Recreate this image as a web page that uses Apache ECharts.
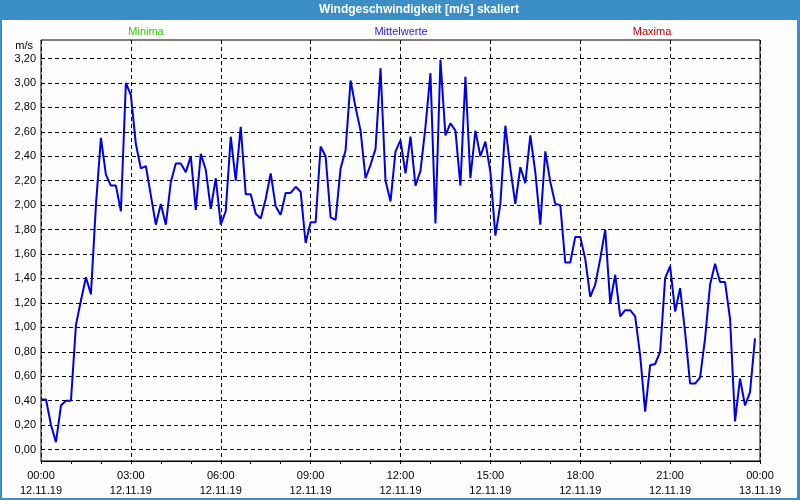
<!DOCTYPE html>
<html>
<head>
<meta charset="utf-8">
<script src="https://cdn.jsdelivr.net/npm/echarts@6/dist/echarts.min.js"></script>
<style>
html,body{margin:0;padding:0;background:#fff;}
#chart{width:800px;height:500px;}
</style>
</head>
<body>
<div id="chart"></div>
<script>
// 10-minute mean wind speed values [m/s], 12.11.19 00:00 .. 23:50
var stepMinutes = 10;
var windMean = [
  0.41,0.41,0.20,0.06,0.36,0.40,0.40,1.02,1.22,1.41,1.27,2.00,
  2.55,2.25,2.16,2.16,1.95,3.00,2.90,2.50,2.30,2.32,2.08,1.84,
  2.01,1.84,2.19,2.34,2.34,2.27,2.40,1.96,2.42,2.29,1.97,2.22,
  1.84,1.95,2.56,2.20,2.64,2.09,2.09,1.93,1.89,2.05,2.26,1.99,
  1.92,2.10,2.10,2.15,2.11,1.69,1.86,1.86,2.48,2.40,1.90,1.88,
  2.30,2.45,3.02,2.80,2.61,2.22,2.33,2.46,3.12,2.20,2.03,2.44,
  2.53,2.26,2.56,2.16,2.28,2.64,3.08,1.85,3.19,2.57,2.67,2.61,
  2.16,3.05,2.22,2.61,2.40,2.52,2.27,1.75,2.01,2.65,2.30,2.01,
  2.31,2.18,2.57,2.27,1.84,2.44,2.19,2.01,2.00,1.53,1.53,1.74,
  1.74,1.56,1.25,1.35,1.56,1.80,1.20,1.43,1.09,1.14,1.14,1.09,
  0.77,0.31,0.69,0.70,0.80,1.40,1.50,1.13,1.32,0.96,0.54,0.54,
  0.59,0.91,1.35,1.52,1.37,1.37,1.07,0.23,0.58,0.36,0.47,0.91
];
var xTickTimes = ['00:00','03:00','06:00','09:00','12:00','15:00','18:00','21:00','00:00'];
var xTickDates = ['12.11.19','12.11.19','12.11.19','12.11.19','12.11.19','12.11.19','12.11.19','12.11.19','13.11.19'];
var titleText = 'Windgeschwindigkeit [m/s] skaliert';
var legendNames = ['Minima','Mittelwerte','Maxima'];
var unitText = 'm/s';

var FONT = "'Liberation Sans', Arial, sans-serif";
var BLUE = '#3b8fc6';
var tickStep = 180;

var seriesData = windMean.map(function (v, i) { return [i * stepMinutes, v]; });

var chart = echarts.init(document.getElementById('chart'), null, {renderer: 'canvas'});
chart.setOption({
  animation: false,
  backgroundColor: '#fcfdfc',
  textStyle: {fontFamily: FONT},
  grid: [
    {left: 41, right: 40, top: 58.5, bottom: 50.5, show: false},
    {left: 41, right: 40, top: 40, bottom: 39, show: true, borderColor: '#000', borderWidth: 1, backgroundColor: 'transparent'}
  ],
  xAxis: [
    {gridIndex: 0, type: 'value', min: 0, max: 1440, show: false},
    {gridIndex: 1, type: 'value', min: 0, max: 1440, interval: tickStep,
     axisLine: {show: true, lineStyle: {color: '#000', width: 1}},
     axisTick: {show: true, length: 3, lineStyle: {color: '#000'}},
     minorTick: {show: true, splitNumber: 3, length: 3, lineStyle: {color: '#000'}},
     splitLine: {show: true, lineStyle: {color: '#000', type: [4, 3], width: 1}},
     axisLabel: {
       margin: 7, fontSize: 11, fontFamily: FONT, color: '#000', lineHeight: 15,
       formatter: function (v) {
         var k = Math.round(v / tickStep);
         return xTickTimes[k] + '\n' + xTickDates[k];
       }
     }
    }
  ],
  yAxis: [
    {gridIndex: 0, type: 'value', min: 0, max: 3.2, interval: 0.2,
     axisLine: {show: false}, axisTick: {show: false},
     splitLine: {show: true, lineStyle: {color: '#000', type: [4, 3], width: 1}},
     axisLabel: {margin: 5, fontSize: 11, fontFamily: FONT, color: '#000',
       formatter: function (v) { return v.toFixed(2).replace('.', ','); }}
    },
    {gridIndex: 1, type: 'value', min: 0, max: 1, show: false}
  ],
  graphic: [
    {type: 'rect', shape: {x: 0, y: 0, width: 800, height: 20}, style: {fill: BLUE}, z: 100},
    {type: 'rect', shape: {x: 1, y: 1, width: 797, height: 498}, style: {fill: 'none', stroke: BLUE, lineWidth: 2}, z: 100},
    {type: 'rect', shape: {x: 797, y: 0, width: 3, height: 500}, style: {fill: BLUE}, z: 100},
    {type: 'text', x: 419, y: 10, z: 101, style: {text: titleText, fill: '#fff', font: "bold 12px " + FONT, textAlign: 'center', textVerticalAlign: 'middle'}},
    {type: 'text', x: 146, y: 32, z: 101, style: {text: legendNames[0], fill: '#33cc00', font: "11px " + FONT, textAlign: 'center', textVerticalAlign: 'middle'}},
    {type: 'text', x: 401, y: 32, z: 101, style: {text: legendNames[1], fill: '#2020ff', font: "11px " + FONT, textAlign: 'center', textVerticalAlign: 'middle'}},
    {type: 'text', x: 652, y: 32, z: 101, style: {text: legendNames[2], fill: '#c00000', font: "11px " + FONT, textAlign: 'center', textVerticalAlign: 'middle'}},
    {type: 'text', x: 33, y: 46, z: 101, style: {text: unitText, fill: '#000', font: "11px " + FONT, textAlign: 'right', textVerticalAlign: 'middle'}}
  ],
  series: [
    {type: 'line', name: legendNames[1], xAxisIndex: 0, yAxisIndex: 0, data: seriesData,
     showSymbol: false, symbol: 'none', lineStyle: {color: '#0000e6', width: 2}, z: 5}
  ]
});
</script>
</body>
</html>
